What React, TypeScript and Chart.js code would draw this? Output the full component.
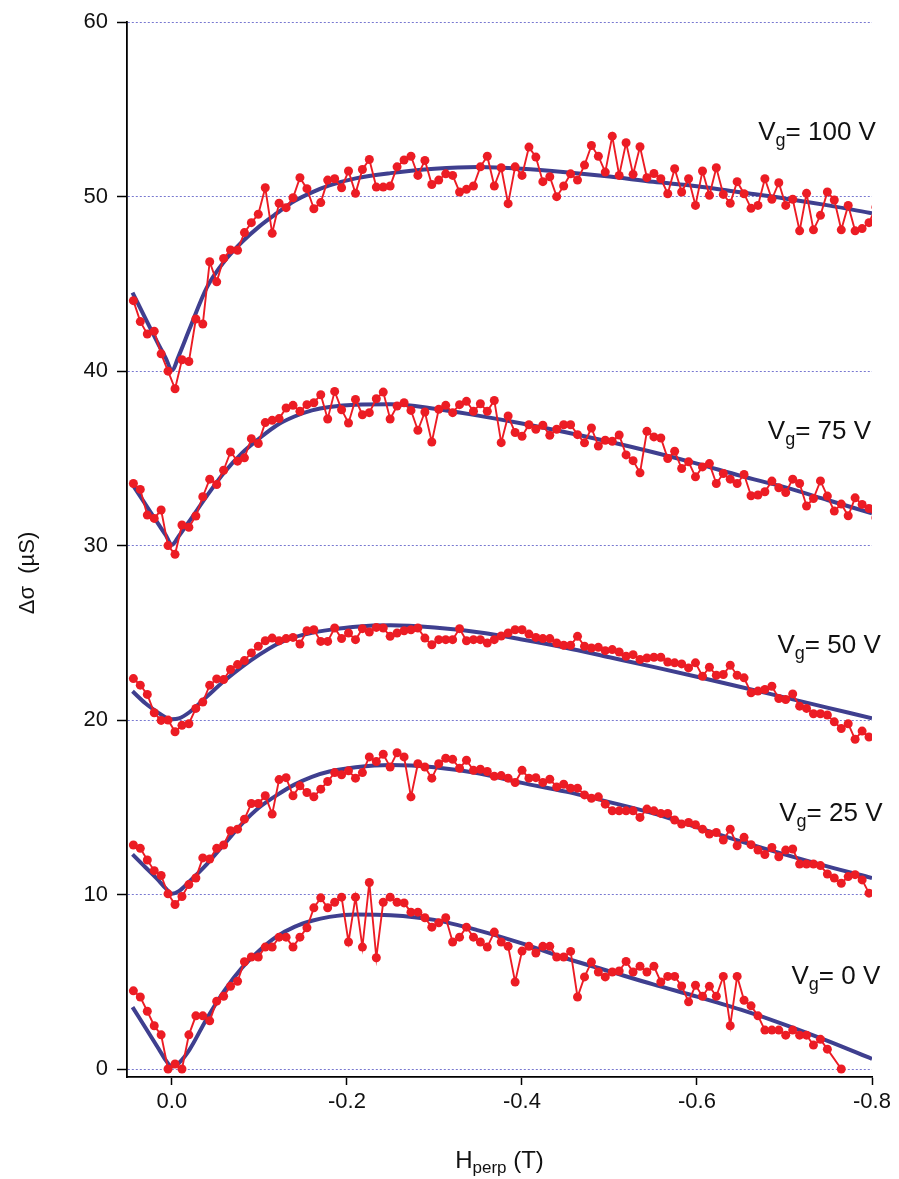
import React, { useEffect, useRef } from 'react';
import { Chart, registerables } from 'chart.js';

Chart.register(...registerables);

// Perpendicular field H_perp (T) of every measured point (shared by all gate voltages)
const H = [
  0.0440, 0.0361, 0.0281, 0.0202, 0.0123, 0.0044, -0.0036, -0.0115, -0.0194, -0.0274,
  -0.0353, -0.0432, -0.0512, -0.0591, -0.0670, -0.0750, -0.0829, -0.0908, -0.0987, -0.1067,
  -0.1146, -0.1225, -0.1305, -0.1384, -0.1463, -0.1543, -0.1622, -0.1701, -0.1780, -0.1860,
  -0.1939, -0.2018, -0.2098, -0.2177, -0.2256, -0.2336, -0.2415, -0.2494, -0.2573, -0.2653,
  -0.2732, -0.2811, -0.2891, -0.2970, -0.3049, -0.3129, -0.3208, -0.3287, -0.3366, -0.3446,
  -0.3525, -0.3604, -0.3684, -0.3763, -0.3842, -0.3922, -0.4001, -0.4080, -0.4159, -0.4239,
  -0.4318, -0.4397, -0.4477, -0.4556, -0.4635, -0.4715, -0.4794, -0.4873, -0.4952, -0.5032,
  -0.5111, -0.5190, -0.5270, -0.5349, -0.5428, -0.5508, -0.5587, -0.5666, -0.5745, -0.5825,
  -0.5904, -0.5983, -0.6063, -0.6142, -0.6221, -0.6301, -0.6380, -0.6459, -0.6538, -0.6618,
  -0.6697, -0.6776, -0.6856, -0.6935, -0.7014, -0.7094, -0.7173, -0.7252, -0.7331, -0.7411,
  -0.7490, -0.7569, -0.7649, -0.7728, -0.7807, -0.7887, -0.7966, -0.8045,
];

// Measured Δσ (µS), one list per gate voltage
const SIGMA_100V = [
  44.04, 42.84, 42.13, 42.29, 40.99, 40.00, 38.99, 40.65, 40.55, 42.99,
  42.70, 46.27, 45.12, 46.46, 46.95, 46.93, 47.94, 48.51, 48.99, 50.51,
  47.90, 49.62, 49.37, 49.94, 51.09, 50.46, 49.31, 49.66, 50.95, 51.03,
  50.51, 51.47, 50.19, 51.56, 52.13, 50.55, 50.55, 50.61, 51.71, 52.10,
  52.32, 51.22, 52.08, 50.70, 50.95, 51.31, 51.22, 50.27, 50.42, 50.61,
  51.71, 52.32, 50.61, 51.66, 49.60, 51.71, 51.22, 52.84, 52.27, 50.86,
  51.14, 50.00, 50.61, 51.31, 50.95, 51.81, 52.93, 52.32, 51.41, 53.47,
  51.22, 53.09, 51.28, 52.86, 51.09, 51.33, 51.03, 50.17, 51.60, 50.27,
  51.03, 49.50, 51.47, 50.08, 51.66, 50.13, 49.62, 50.86, 50.17, 49.33,
  49.50, 51.03, 49.85, 50.80, 49.50, 49.85, 48.04, 50.19, 48.10, 48.93,
  50.27, 49.81, 48.10, 49.50, 48.04, 48.17, 48.51, 49.40,
];
const SIGMA_75V = [
  33.56, 33.22, 31.75, 31.56, 32.04, 30.00, 29.50, 31.18, 31.05, 31.70,
  32.80, 33.81, 33.50, 34.32, 35.37, 34.84, 35.03, 36.13, 35.85, 37.05,
  37.18, 37.28, 37.89, 38.04, 37.70, 38.08, 38.19, 38.65, 37.26, 38.84,
  37.79, 37.03, 38.38, 37.50, 37.62, 38.42, 38.80, 37.26, 38.00, 38.19,
  37.75, 36.61, 37.66, 35.94, 37.81, 38.04, 37.62, 38.08, 38.27, 37.70,
  38.13, 37.70, 38.32, 35.90, 37.43, 36.48, 36.27, 36.93, 36.67, 36.90,
  36.32, 36.67, 36.93, 36.93, 36.36, 35.89, 36.74, 35.71, 36.04, 35.98,
  36.34, 35.20, 34.87, 34.17, 36.55, 36.23, 36.17, 34.99, 35.41, 34.42,
  34.80, 33.94, 34.51, 34.70, 33.56, 34.13, 33.81, 33.56, 34.08, 32.86,
  32.90, 33.09, 33.70, 33.31, 33.04, 33.81, 33.56, 32.27, 32.70, 33.71,
  32.84, 31.98, 32.38, 31.71, 32.74, 32.36, 32.13, 31.60,
];
const SIGMA_50V = [
  22.38, 22.00, 21.47, 20.42, 19.98, 20.00, 19.33, 19.70, 19.79, 20.67,
  21.03, 22.00, 22.36, 22.32, 22.90, 23.18, 23.41, 23.85, 24.23, 24.55,
  24.70, 24.55, 24.67, 24.74, 24.36, 25.12, 25.18, 24.51, 24.51, 25.28,
  24.67, 24.99, 24.61, 25.24, 25.05, 25.31, 25.28, 24.80, 24.99, 25.12,
  25.18, 25.28, 24.70, 24.32, 24.61, 24.61, 24.61, 25.24, 24.55, 24.61,
  24.61, 24.42, 24.61, 24.82, 24.99, 25.18, 25.18, 24.93, 24.74, 24.67,
  24.67, 24.42, 24.29, 24.29, 24.80, 24.23, 24.13, 24.17, 23.98, 24.04,
  23.90, 23.66, 23.75, 23.47, 23.56, 23.60, 23.60, 23.33, 23.28, 23.22,
  22.99, 23.28, 22.51, 23.03, 22.57, 22.61, 23.14, 22.57, 22.42, 21.56,
  21.66, 21.75, 21.94, 21.24, 21.18, 21.50, 20.80, 20.67, 20.36, 20.36,
  20.29, 19.90, 19.52, 19.79, 18.90, 19.37, 19.03,
];
const SIGMA_25V = [
  12.84, 12.65, 11.98, 11.37, 11.09, 10.04, 9.43, 9.89, 10.57, 10.95,
  12.10, 12.04, 12.65, 12.84, 13.66, 13.75, 14.32, 15.22, 15.22, 15.66,
  14.61, 16.59, 16.70, 15.66, 16.23, 15.85, 15.60, 16.04, 16.48, 16.99,
  16.86, 17.09, 16.67, 16.99, 17.89, 17.62, 18.04, 17.31, 18.13, 17.89,
  15.60, 17.50, 17.31, 16.67, 17.50, 17.81, 17.75, 17.24, 17.70, 17.12,
  17.18, 17.05, 16.78, 16.82, 16.67, 16.42, 17.12, 16.67, 16.70, 16.42,
  16.61, 16.17, 16.32, 16.10, 16.10, 15.71, 15.52, 15.60, 15.18, 14.80,
  14.80, 14.80, 14.80, 14.42, 14.90, 14.80, 14.65, 14.65, 14.27, 14.04,
  14.13, 14.00, 13.75, 13.47, 13.56, 13.12, 13.75, 12.80, 13.28, 12.86,
  12.55, 12.29, 12.70, 12.17, 12.55, 12.61, 11.75, 11.75, 11.75, 11.66,
  11.18, 10.95, 10.65, 11.03, 11.14, 10.84, 10.08,
];
const SIGMA_0V = [
  4.48, 4.13, 3.31, 2.48, 1.96, 0.00, 0.29, 0.00, 1.96, 3.05,
  3.05, 2.76, 3.89, 4.17, 4.74, 5.03, 6.15, 6.42, 6.42, 6.99,
  6.99, 7.56, 7.56, 6.99, 7.56, 8.10, 9.24, 9.81, 9.24, 9.56,
  9.85, 7.28, 9.85, 6.99, 10.69, 6.38, 9.56, 9.85, 9.56, 9.52,
  8.99, 8.99, 8.67, 8.13, 8.38, 8.67, 7.28, 7.56, 8.13, 7.56,
  7.28, 6.99, 7.85, 7.28, 7.03, 4.99, 6.76, 7.03, 6.65, 7.03,
  7.03, 6.42, 6.42, 6.74, 4.13, 5.28, 6.13, 5.56, 5.28, 5.56,
  5.62, 6.17, 5.56, 5.89, 5.56, 5.89, 4.99, 5.31, 5.31, 4.76,
  3.85, 4.80, 4.17, 4.74, 4.17, 5.31, 2.48, 5.31, 3.94, 3.62,
  3.05, 2.23, 2.23, 2.23, 1.94, 2.23, 1.94, 1.94, 1.37, 1.70,
  1.14, null, 0.00,
];

// Fitted curves, sampled at FIT_H
const FIT_H = [
  0.045, 0.03, 0.015, 0.007, 0.0, -0.008, -0.02, -0.04, -0.06, -0.08,
  -0.1, -0.12, -0.14, -0.16, -0.18, -0.21, -0.25, -0.3, -0.35, -0.4,
  -0.45, -0.5, -0.55, -0.6, -0.65, -0.7, -0.75, -0.8,
];
const FIT_100V = [
  44.5, 43.0, 41.5, 40.75, 40.05, 40.9, 42.4, 44.8, 46.3, 47.4,
  48.3, 49.05, 49.75, 50.25, 50.65, 51.05, 51.35, 51.6, 51.7, 51.6,
  51.4, 51.15, 50.85, 50.6, 50.25, 49.9, 49.5, 49.05,
];
const FIT_75V = [
  33.5, 32.35, 31.2, 30.6, 30.05, 30.55, 31.4, 32.85, 34.2, 35.3,
  36.15, 36.9, 37.4, 37.75, 37.95, 38.08, 38.1, 37.85, 37.45, 37.0,
  36.5, 35.95, 35.35, 34.7, 34.0, 33.35, 32.6, 31.85,
];
const FIT_50V = [
  21.65, 20.95, 20.4, 20.15, 20.05, 20.1, 20.45, 21.35, 22.25, 23.05,
  23.75, 24.35, 24.75, 25.0, 25.17, 25.35, 25.43, 25.3, 25.03, 24.62,
  24.15, 23.6, 23.05, 22.48, 21.9, 21.3, 20.7, 20.1,
];
const FIT_25V = [
  12.3, 11.55, 10.8, 10.35, 10.05, 10.2, 10.75, 11.75, 12.9, 14.05,
  15.0, 15.7, 16.3, 16.75, 17.05, 17.3, 17.43, 17.3, 16.95, 16.4,
  15.9, 15.3, 14.65, 13.85, 13.05, 12.3, 11.6, 10.95,
];
const FIT_0V = [
  3.55, 2.35, 1.15, 0.5, 0.15, 0.35, 1.1, 2.9, 4.5, 5.8,
  6.8, 7.6, 8.15, 8.5, 8.72, 8.86, 8.82, 8.55, 7.95, 7.2,
  6.35, 5.6, 4.85, 4.15, 3.4, 2.55, 1.6, 0.58,
];

// Gate-voltage labels and where they sit (data coordinates of the label's left/baseline)
const GATE_LABELS = ['100', '75', '50', '25', '0'];
const LABEL_H = [-0.670, -0.681, -0.692, -0.694, -0.708];
const LABEL_SIGMA = [53.26, 36.11, 23.83, 14.23, 4.86];

const X_MIN = -0.8;
const X_MAX = 0.0513;
const Y_MIN = -0.457;
const Y_MAX = 60;

const RED = '#ec1c24';
const BLUE = '#3f3f8f';
const FONT = '"Liberation Sans", Arial, Helvetica, sans-serif';

const toPoints = (xs: number[], ys: (number | null)[]) =>
  ys.map((v, i) => ({ x: xs[i], y: v }));

function drawSub(
  ctx: CanvasRenderingContext2D,
  main: string,
  sub: string,
  rest: string,
  x: number,
  y: number,
  size: number,
  subSize: number,
  dy: number,
  align: 'left' | 'center'
) {
  ctx.font = `${size}px ${FONT}`;
  const w1 = ctx.measureText(main).width;
  const w3 = ctx.measureText(rest).width;
  ctx.font = `${subSize}px ${FONT}`;
  const w2 = ctx.measureText(sub).width;
  const total = w1 + w2 + w3;
  let sx = align === 'center' ? x - total / 2 : x;
  ctx.textAlign = 'left';
  ctx.textBaseline = 'alphabetic';
  ctx.font = `${size}px ${FONT}`;
  ctx.fillText(main, sx, y);
  sx += w1;
  ctx.font = `${subSize}px ${FONT}`;
  ctx.fillText(sub, sx, y + dy);
  sx += w2;
  ctx.font = `${size}px ${FONT}`;
  ctx.fillText(rest, sx, y);
}

const textPlugin = {
  id: 'textPlugin',
  afterDraw(chart: any) {
    const { ctx } = chart;
    const xs = chart.scales.x;
    const ys = chart.scales.y;
    ctx.save();
    ctx.fillStyle = '#111';
    GATE_LABELS.forEach((lab, k) => {
      const px = xs.getPixelForValue(LABEL_H[k]);
      const py = ys.getPixelForValue(LABEL_SIGMA[k]);
      drawSub(ctx, 'V', 'g', `= ${lab} V`, px, py, 26, 18, 6, 'left');
    });
    // x-axis title
    const cx = (xs.left + xs.right) / 2;
    drawSub(ctx, 'H', 'perp', ' (T)', cx, chart.height - 11, 24, 17, 5, 'center');
    // y-axis title
    ctx.translate(28, 573);
    ctx.rotate(-Math.PI / 2);
    ctx.font = `22px ${FONT}`;
    ctx.textAlign = 'center';
    ctx.textBaseline = 'middle';
    ctx.fillText('\u0394\u03c3  (\u00b5S)', 0, 0);
    ctx.restore();
  },
};

export default function App() {
  const ref = useRef<HTMLCanvasElement | null>(null);

  useEffect(() => {
    if (!ref.current) return;
    const dataSets = [
      SIGMA_100V, SIGMA_75V, SIGMA_50V, SIGMA_25V, SIGMA_0V,
    ].map((vals) => ({
      data: toPoints(H, vals),
      showLine: true,
      borderColor: RED,
      backgroundColor: RED,
      borderWidth: 1.9,
      pointRadius: 4.5,
      pointBorderWidth: 0,
      pointBackgroundColor: RED,
      spanGaps: true,
      clip: 0,
      order: 0,
    }));
    const fitSets = [FIT_100V, FIT_75V, FIT_50V, FIT_25V, FIT_0V].map((vals) => ({
      data: toPoints(FIT_H, vals),
      showLine: true,
      borderColor: BLUE,
      backgroundColor: BLUE,
      borderWidth: 4,
      pointRadius: 0,
      cubicInterpolationMode: 'monotone' as const,
      clip: 0,
      order: 1,
    }));

    const chart = new Chart(ref.current, {
      type: 'scatter',
      data: { datasets: [...dataSets, ...fitSets] as any },
      options: {
        animation: false,
        responsive: false,
        events: [],
        layout: { padding: { top: 19, right: 27, left: 0, bottom: 0 } },
        plugins: { legend: { display: false }, tooltip: { enabled: false } },
        scales: {
          x: {
            type: 'linear',
            reverse: true,
            min: X_MIN,
            max: X_MAX,
            afterFit: (s: any) => {
              s.height = 102;
            },
            grid: {
              drawOnChartArea: false,
              drawTicks: true,
              tickLength: 8,
              tickColor: '#000',
              tickWidth: 1.5,
            },
            border: { display: true, color: '#000', width: 1.8 },
            ticks: {
              stepSize: 0.2,
              includeBounds: false,
              padding: 4,
              color: '#111',
              font: { size: 22, family: FONT },
              callback: (v: any) => {
                const n = Number(v);
                return Math.abs(n) < 1e-9 ? '0.0' : n.toFixed(1);
              },
            },
          },
          y: {
            type: 'linear',
            min: Y_MIN,
            max: Y_MAX,
            afterFit: (s: any) => {
              s.width = 127;
            },
            grid: {
              drawOnChartArea: true,
              drawTicks: true,
              color: 'rgba(96, 96, 200, 0.85)',
              lineWidth: 1,
              tickLength: 10,
              tickColor: '#000',
              tickWidth: 1.5,
              tickBorderDash: [],
            },
            border: { display: true, color: '#000', width: 1.8, dash: [2, 2] },
            ticks: {
              stepSize: 10,
              includeBounds: false,
              padding: 9,
              color: '#111',
              font: { size: 22, family: FONT },
            },
          },
        },
      },
      plugins: [textPlugin],
    });
    return () => chart.destroy();
  }, []);

  return (
    <div
      style={{
        position: 'fixed',
        left: 0,
        top: 0,
        width: 899,
        height: 1179,
        background: '#fff',
      }}
    >
      <canvas ref={ref} width={899} height={1179} style={{ display: 'block' }} />
    </div>
  );
}
